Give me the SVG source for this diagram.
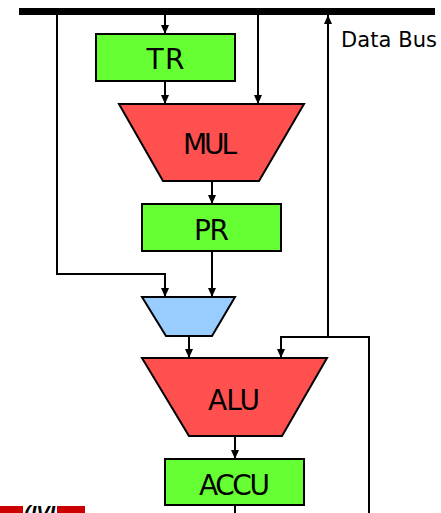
<svg xmlns="http://www.w3.org/2000/svg" width="441" height="513" viewBox="0 0 441 513">
  <style>
    .reg { fill: #66ff33; stroke: #000; stroke-width: 2; }
    .unit { fill: #ff5050; stroke: #000; stroke-width: 2; stroke-linejoin: miter; }
    .mux { fill: #99ccff; stroke: #000; stroke-width: 2; }
    .lbl { font-family: "DejaVu Sans", Verdana, sans-serif; font-size: 28px; fill: #000; text-anchor: middle; }
    .wire { fill: none; stroke: #000; stroke-width: 2; }
    .arrow { marker-end: url(#head); }
  </style>
  <defs>
    <marker id="head" markerUnits="userSpaceOnUse" markerWidth="8" markerHeight="9" refX="9" refY="4" orient="auto">
      <path d="M0,0 L9,4 L0,8 z" fill="#000"/>
    </marker>
    <clipPath id="logoClip">
      <rect x="0" y="505" width="90" height="8"/>
    </clipPath>
  </defs>

  <rect width="441" height="513" fill="#fff"/>

  <!-- data bus -->
  <g id="bus">
    <rect x="19" y="8" width="416" height="7" fill="#000"/>
    <text x="341" y="47" font-family="DejaVu Sans, Verdana, sans-serif" font-size="21" textLength="96">Data Bus</text>
  </g>

  <!-- connectors -->
  <g id="connectors">
    <path class="wire arrow" d="M165,15 V34"/>
    <path class="wire arrow" d="M165,81 V104"/>
    <path class="wire arrow" d="M258,15 V104"/>
    <path class="wire arrow" d="M57,15 V274 H165 V297"/>
    <path class="wire arrow" d="M212,181 V204"/>
    <path class="wire arrow" d="M212,251 V297"/>
    <path class="wire arrow" d="M189,336 V358"/>
    <path class="wire arrow" d="M369,513 V337 H281 V358"/>
    <path class="wire arrow" d="M328,337 V15"/>
    <path class="wire arrow" d="M235,436 V459"/>
    <path class="wire" d="M235,505 V513"/>
  </g>

  <g id="tr">
    <rect class="reg" x="96" y="34" width="139" height="47"/>
    <text class="lbl" x="165.5" y="69" textLength="38">TR</text>
  </g>

  <g id="mul">
    <polygon class="unit" points="119,104 304,104 259,181 163,181"/>
    <text class="lbl" x="210" y="154" textLength="54">MUL</text>
  </g>

  <g id="pr">
    <rect class="reg" x="142" y="204" width="139" height="47"/>
    <text class="lbl" x="211.5" y="240" textLength="35">PR</text>
  </g>

  <g id="mux">
    <polygon class="mux" points="142,297 235,297 212,336 166,336"/>
  </g>

  <g id="alu">
    <polygon class="unit" points="142,358 327,358 282,436 189,436"/>
    <text class="lbl" x="234" y="410" textLength="52">ALU</text>
  </g>

  <g id="accu">
    <rect class="reg" x="165" y="459" width="139" height="46"/>
    <text class="lbl" x="234.5" y="495" textLength="71">ACCU</text>
  </g>

  <!-- logo strip at the lower edge -->
  <g id="logo">
    <rect x="0" y="506" width="23" height="7" fill="#cc0000"/>
    <rect x="57" y="506" width="28" height="7" fill="#cc0000"/>
    <text x="24" y="520" clip-path="url(#logoClip)" font-family="Liberation Sans, Arial, sans-serif" font-size="20" font-style="italic" font-weight="bold" fill="#000">(IVI</text>
  </g>
</svg>
